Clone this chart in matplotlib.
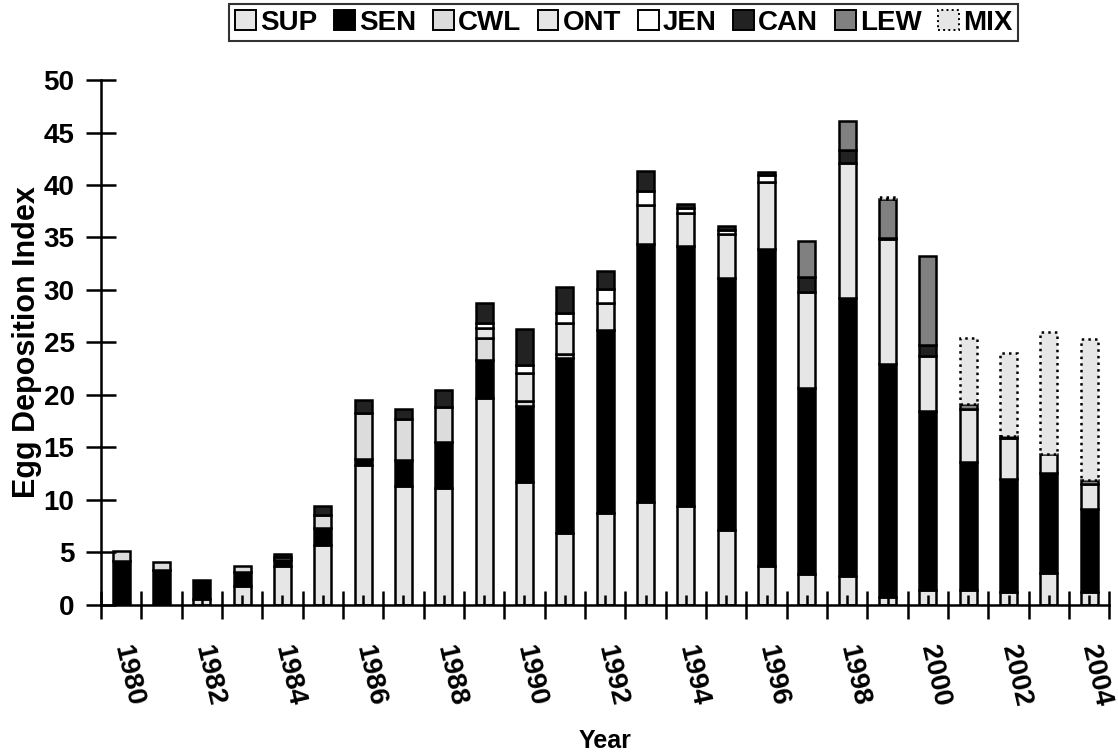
import numpy as np
import matplotlib.pyplot as plt
from matplotlib.patches import Patch

plt.rcParams['font.family'] = ['Liberation Sans', 'DejaVu Sans']
plt.rcParams['font.weight'] = 'bold'

years = list(range(1980, 2005))

# stacked components, bottom to top
SUP = [0, 0, 0.55, 1.83, 3.74, 5.65, 13.3, 11.33, 11.17, 19.71, 11.74, 6.83, 8.73,
       9.82, 9.4, 7.1, 3.7, 2.96, 2.76, 0.73, 1.37, 1.37, 1.2, 3.05, 1.2]
SEN = [4.15, 3.33, 1.8, 1.32, 0.55, 1.65, 0.63, 2.46, 4.35, 3.6, 7.21, 16.68, 17.46,
       24.55, 24.8, 24.05, 30.2, 17.7, 26.5, 22.2, 17.1, 12.2, 10.8, 9.5, 7.9]
CWL = [1.0, 0.75, 0, 0.5, 0.27, 1.27, 4.32, 3.92, 3.3, 2.09, 0.48, 0.36, 0,
       0, 0, 0, 0, 0, 0, 0, 0, 0, 0, 0, 0]
ONT = [0, 0, 0, 0, 0, 0, 0, 0, 0, 0.94, 2.69, 3.01, 2.53,
       3.73, 3.1, 4.2, 6.4, 9.1, 12.8, 11.9, 5.2, 5.1, 3.9, 1.8, 2.4]
JEN = [0, 0, 0, 0, 0, 0, 0, 0, 0, 0.47, 0.7, 0.9, 1.34,
       1.28, 0.5, 0.4, 0.65, 0, 0, 0, 0, 0, 0.15, 0, 0]
CAN = [0, 0, 0, 0, 0.23, 0.85, 1.23, 0.98, 1.61, 1.96, 3.47, 2.53, 1.78,
       1.98, 0.4, 0.3, 0.3, 1.5, 1.3, 0.15, 1.1, 0, 0, 0, 0]
LEW = [0, 0, 0, 0, 0, 0, 0, 0, 0, 0, 0, 0, 0,
       0, 0, 0, 0, 3.4, 2.7, 3.7, 8.5, 0.47, 0, 0, 0.35]
MIX = [0, 0, 0, 0, 0, 0, 0, 0, 0, 0, 0, 0, 0,
       0, 0, 0, 0, 0, 0, 0.2, 0, 6.26, 7.9, 11.6, 13.5]

series = [
    ('SUP', SUP, '#e6e6e6', '-'),
    ('SEN', SEN, '#000000', '-'),
    ('CWL', CWL, '#dcdcdc', '-'),
    ('ONT', ONT, '#e6e6e6', '-'),
    ('JEN', JEN, '#ffffff', '-'),
    ('CAN', CAN, '#222222', '-'),
    ('LEW', LEW, '#808080', '-'),
    ('MIX', MIX, '#e6e6e6', ':'),
]

fig = plt.figure(figsize=(11.18, 7.55), dpi=100)
ax = fig.add_axes([0.0903, 0.199, 0.902, 0.695])

x = np.arange(len(years))
bottom = np.zeros(len(years))
handles = []
for name, vals, color, ls in series:
    v = np.array(vals, dtype=float)
    m = v > 0
    ax.bar(x[m], v[m], bottom=bottom[m], width=0.42, color=color,
           edgecolor='black', linewidth=1.8, linestyle=ls)
    bottom += v
    handles.append(Patch(facecolor=color, edgecolor='black', linewidth=1.4, linestyle=ls, label=name))

ax.set_xlim(-0.5, len(years) - 0.5)
ax.set_ylim(0, 50)
ax.set_yticks(np.arange(0, 51, 5))

for s in ['top', 'right']:
    ax.spines[s].set_visible(False)
for s in ['left', 'bottom']:
    ax.spines[s].set_linewidth(1.8)

ax.set_xticks(x)
ax.set_xticklabels([str(y) if y % 2 == 0 else '' for y in years],
                   rotation=-77, rotation_mode='anchor', ha='left', va='center')
ax.set_xticks(np.arange(-0.5, len(years), 1), minor=True)
ax.tick_params(axis='x', which='major', direction='in', length=7, width=1.8,
               labelsize=20, pad=29)
ax.tick_params(axis='x', which='minor', direction='inout', length=20, width=1.8)
ax.tick_params(axis='y', direction='inout', length=22, width=1.8, labelsize=20, pad=8)

ax.set_ylabel('Egg Deposition Index', fontsize=22, fontweight='bold', labelpad=1)
ax.set_xlabel('Year', fontsize=18, fontweight='bold', labelpad=15)

fig.legend(handles=handles, loc='upper center', bbox_to_anchor=(0.558, 1.0), ncol=8,
           fontsize=20, frameon=True, fancybox=False, edgecolor='black',
           handlelength=0.75, handleheight=0.75, handletextpad=0.15,
           columnspacing=0.6, borderpad=0.2, borderaxespad=0.15)
fig.legends[0].get_frame().set_linewidth(1.5)

fig.savefig('out.png', dpi=100)
